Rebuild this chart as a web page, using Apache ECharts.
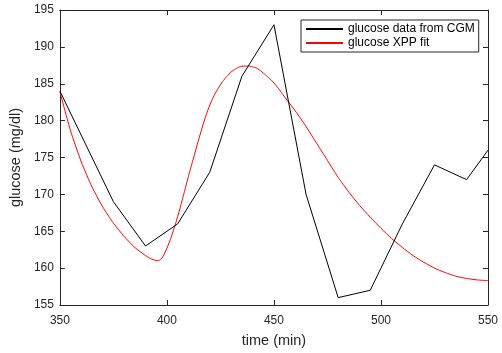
<!DOCTYPE html>
<html>
<head>
<meta charset="utf-8">
<script src="https://cdn.jsdelivr.net/npm/echarts@6/dist/echarts.min.js"></script>
<style>
html,body{margin:0;padding:0;background:#fff;}
#chart{width:502px;height:353px;}
</style>
</head>
<body>
<div id="chart"></div>
<script>
// CGM data (time in min, glucose in mg/dl)
var cgmTime = [350, 375, 390, 405, 420, 435, 450, 465, 480, 495, 510, 525, 540, 550];
var cgmGlucose = [184, 169, 163, 166, 173, 186, 193, 170, 156, 157, 166, 174, 172, 176];

// XPP fit curve
var fitTime = [350, 355, 360, 365, 370, 375, 380, 385, 390, 393, 396, 398, 400, 402, 404, 406, 408, 410, 412, 414, 416, 418, 420, 422, 424, 426, 428, 430, 432, 434, 436, 438, 440, 442, 444, 446, 448, 450, 452, 455, 460, 465, 470, 475, 480, 485, 490, 495, 500, 505, 510, 515, 520, 525, 530, 535, 540, 545, 550];
var fitGlucose = [183.9, 178.6, 174.4, 171.0, 168.3, 166.1, 164.3, 162.8, 161.7, 161.2, 161.0, 161.5, 162.7, 164.2, 166.0, 168.0, 170.2, 172.4, 174.5, 176.6, 178.6, 180.5, 182.1, 183.4, 184.4, 185.3, 186.0, 186.6, 187.0, 187.3, 187.4, 187.4, 187.3, 187.1, 186.7, 186.2, 185.7, 185.1, 184.4, 183.2, 181.3, 179.2, 176.9, 174.6, 172.3, 170.3, 168.5, 166.9, 165.4, 164.0, 162.8, 161.7, 160.8, 160.0, 159.4, 158.9, 158.6, 158.4, 158.3];

var xTicks = {min: 350, max: 550, step: 50};
var yTicks = {min: 155, max: 195, step: 5};

var seriesNames = ['glucose data from CGM', 'glucose XPP fit'];

function pairs(xs, ys) { return xs.map(function (x, i) { return [x, ys[i]]; }); }

var axisColor = '#262626';
var font = 'Liberation Sans, Arial, Helvetica, sans-serif';

var chart = echarts.init(document.getElementById('chart'), null, {renderer: 'canvas'});
var baseX = {
  type: 'value', min: xTicks.min, max: xTicks.max, interval: xTicks.step,
  axisLine: {show: true, onZero: false, lineStyle: {color: axisColor, width: 1}},
  axisTick: {show: true, inside: true, length: 5, lineStyle: {color: axisColor}},
  splitLine: {show: false}
};
var baseY = {
  type: 'value', min: yTicks.min, max: yTicks.max, interval: yTicks.step,
  axisLine: {show: true, onZero: false, lineStyle: {color: axisColor, width: 1}},
  axisTick: {show: true, inside: true, length: 5, lineStyle: {color: axisColor}},
  splitLine: {show: false}
};
chart.setOption({
  animation: false,
  backgroundColor: '#fff',
  textStyle: {fontFamily: font},
  grid: {left: 59, right: 14, top: 10, bottom: 46, containLabel: false},
  xAxis: [
    Object.assign({}, baseX, {
      position: 'bottom',
      axisLabel: {show: true, color: axisColor, fontSize: 12, fontFamily: font, margin: 10},
      name: 'time (min)', nameLocation: 'middle', nameGap: 28,
      nameTextStyle: {color: axisColor, fontSize: 14.5, fontFamily: font}
    }),
    Object.assign({}, baseX, {position: 'top', axisLabel: {show: false}})
  ],
  yAxis: [
    Object.assign({}, baseY, {
      position: 'left',
      axisLabel: {show: true, color: axisColor, fontSize: 12, fontFamily: font, margin: 6},
      name: 'glucose (mg/dl)', nameLocation: 'middle', nameGap: 24,
      nameTextStyle: {color: axisColor, fontSize: 14.5, fontFamily: font}
    }),
    Object.assign({}, baseY, {position: 'right', axisLabel: {show: false}})
  ],
  legend: {
    orient: 'vertical', left: 301, top: 20,
    backgroundColor: '#fff',
    borderColor: axisColor, borderWidth: 1,
    padding: [3, 4, 3, 5],
    itemGap: 2, itemWidth: 37, itemHeight: 2, itemTextGap: 5,
    icon: 'rect',
    textStyle: {color: '#000', fontSize: 12, fontFamily: font},
    data: seriesNames
  },
  series: [
    {
      name: seriesNames[0], type: 'line', data: pairs(cgmTime, cgmGlucose),
      symbol: 'none', smooth: false, xAxisIndex: 0, yAxisIndex: 0,
      lineStyle: {color: '#000', width: 1}, itemStyle: {color: '#000'}, z: 3
    },
    {
      name: seriesNames[1], type: 'line', data: pairs(fitTime, fitGlucose),
      symbol: 'none', smooth: 0.2, xAxisIndex: 0, yAxisIndex: 0,
      lineStyle: {color: '#ff0000', width: 1}, itemStyle: {color: '#ff0000'}, z: 2
    }
  ]
});
</script>
</body>
</html>
